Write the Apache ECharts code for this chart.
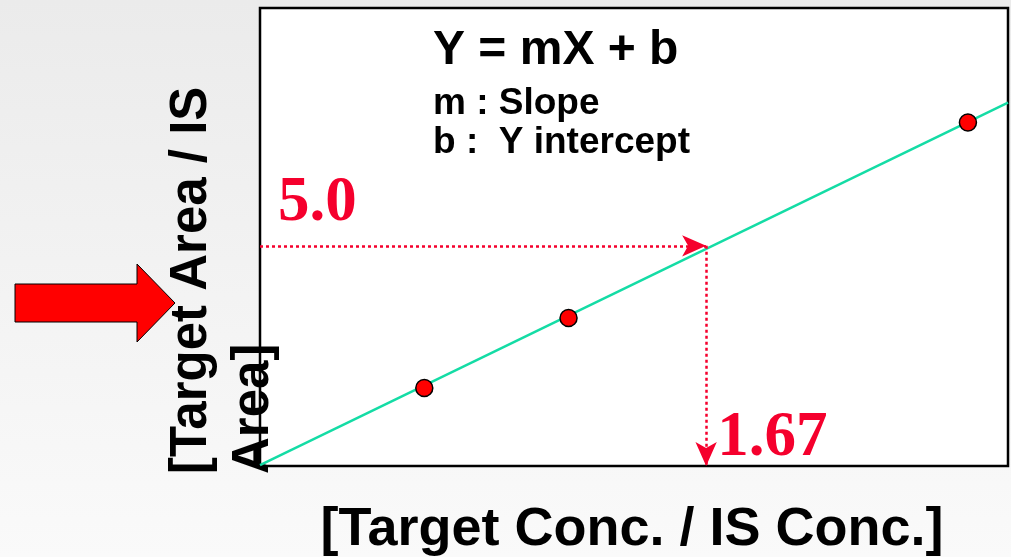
<!DOCTYPE html>
<html>
<head>
<meta charset="utf-8">
<script src="https://cdn.jsdelivr.net/npm/echarts@6/dist/echarts.min.js"></script>
<style>
  html, body { margin: 0; padding: 0; }
  #chart { width: 1011px; height: 557px; }
</style>
</head>
<body>
<div id="chart"></div>
<script>
// Calibration standards: concentration ratio vs. area ratio
const standardX = [0.615, 1.155, 2.65];
const standardY = [1.77, 3.36, 7.80];

// Fitted calibration line (endpoints across the plot range)
const fitX = [0, 2.8];
const fitY = [0.02, 8.25];

// Sample reading: measured area ratio and the concentration ratio it gives
const sampleArea = 5.0;
const sampleConc = 1.67;

const axisRangeX = [0, 2.8];
const axisRangeY = [0, 10.4];

const titleText = 'Y = mX + b';
const legendLines = ['m : Slope', 'b :  Y intercept'];
const xTitle = '[Target Conc. / IS Conc.]';
const yTitle = '[Target Area / IS\nArea]';

const RED = '#f5002d';
const SANS = '"Liberation Sans", Arial, sans-serif';
const SERIF = '"Liberation Serif", "Times New Roman", serif';

const chart = echarts.init(document.getElementById('chart'));

chart.setOption({
  animation: false,
  backgroundColor: {
    type: 'linear', x: 0, y: 0, x2: 0, y2: 1,
    colorStops: [{ offset: 0, color: '#ebebeb' }, { offset: 1, color: '#fafafa' }]
  },
  grid: {
    left: 260, top: 8, right: 3, bottom: 91,
    show: true, backgroundColor: '#ffffff', borderColor: '#000000', borderWidth: 2.5
  },
  xAxis: {
    type: 'value', min: axisRangeX[0], max: axisRangeX[1],
    axisLine: { show: false }, axisTick: { show: false },
    axisLabel: { show: false }, splitLine: { show: false }
  },
  yAxis: {
    type: 'value', min: axisRangeY[0], max: axisRangeY[1],
    axisLine: { show: false }, axisTick: { show: false },
    axisLabel: { show: false }, splitLine: { show: false }
  },
  graphic: [
    // big red pointer arrow on the left
    {
      type: 'polygon', z: 0,
      shape: { points: [[15, 284], [137, 284], [137, 264], [175, 303], [137, 342], [137, 322], [15, 322]] },
      style: { fill: '#ff0000', stroke: '#000000', lineWidth: 1 }
    },
    // y-axis title, reading bottom to top
    {
      type: 'text', z: 1, x: 161, y: 474, rotation: Math.PI / 2,
      style: {
        text: yTitle, font: 'bold 51px ' + SANS, fill: '#000000',
        textAlign: 'left', textVerticalAlign: 'top', lineHeight: 62
      }
    },
    // x-axis title
    {
      type: 'text', z: 1, x: 632, y: 530,
      style: {
        text: xTitle, font: 'bold 54px ' + SANS, fill: '#000000',
        textAlign: 'center', textVerticalAlign: 'middle'
      }
    },
    // equation block
    {
      type: 'text', z: 3, x: 433, y: 27,
      style: { text: titleText, font: 'bold 48px ' + SANS, fill: '#000000', textAlign: 'left', textVerticalAlign: 'top' }
    },
    {
      type: 'text', z: 3, x: 433, y: 84,
      style: {
        text: legendLines.join('\n'), font: 'bold 37px ' + SANS, fill: '#000000',
        textAlign: 'left', textVerticalAlign: 'top', lineHeight: 39
      }
    }
  ],
  series: [
    {
      name: 'fit', type: 'line', z: 2,
      data: fitX.map((x, i) => [x, fitY[i]]),
      symbol: 'none', silent: true, clip: false,
      lineStyle: { color: '#14dca5', width: 2.5 },
      markLine: {
        silent: true, symbol: ['none', 'arrow'], symbolSize: [16, 24],
        lineStyle: { color: RED, type: [3, 3], width: 2.5 },
        label: { show: false },
        data: [
          [{ coord: [0, sampleArea] }, { coord: [sampleConc, sampleArea] }],
          [{ coord: [sampleConc, sampleArea] }, { coord: [sampleConc, 0] }]
        ]
      },
      markPoint: {
        silent: true, symbol: 'circle', symbolSize: 0,
        itemStyle: { color: 'rgba(0,0,0,0)' },
        label: {
          show: true, color: RED, fontFamily: SERIF, fontWeight: 'bold', fontSize: 63,
          align: 'left', verticalAlign: 'bottom'
        },
        data: [
          { coord: [0, sampleArea], value: sampleArea.toFixed(1), label: { formatter: sampleArea.toFixed(1), position: [18, -11] } },
          { coord: [sampleConc, 0], value: sampleConc.toFixed(2), label: { formatter: sampleConc.toFixed(2), position: [11, 4] } }
        ]
      }
    },
    {
      name: 'standards', type: 'scatter', z: 4,
      data: standardX.map((x, i) => [x, standardY[i]]),
      symbol: 'circle', symbolSize: 17,
      itemStyle: { color: '#ff0000', opacity: 1, borderColor: '#000000', borderWidth: 1.5 }
    }
  ]
});
</script>
</body>
</html>
